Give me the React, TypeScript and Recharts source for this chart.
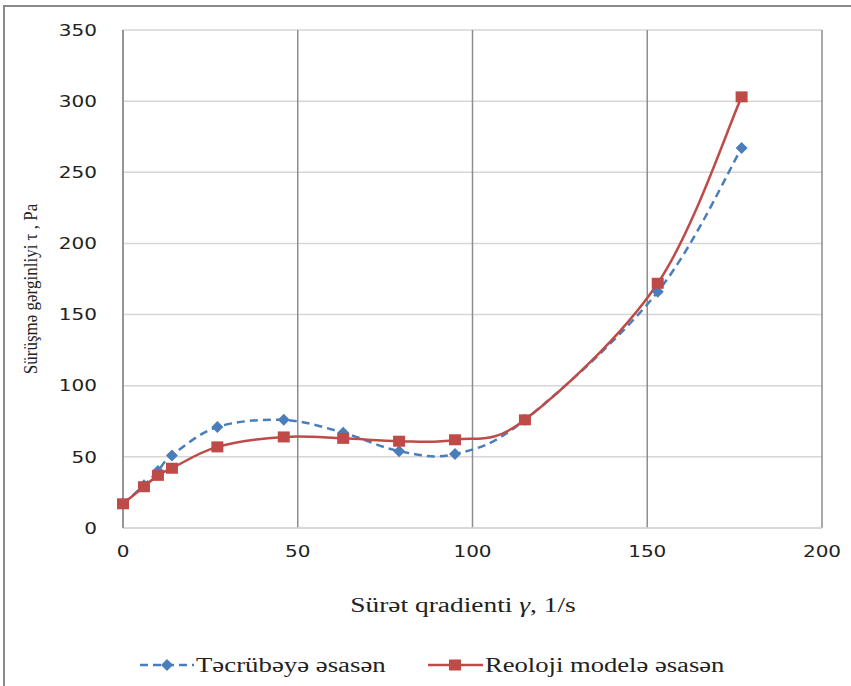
import React from 'react';
import { LineChart, Line, XAxis, YAxis, CartesianGrid } from 'recharts';

const shearRate = [0, 6, 10, 14, 27, 46, 63, 79, 95, 115, 153, 177];
const experiment = [17, 30, 40, 51, 71, 76, 67, 54, 52, 76, 166, 267];
const model = [17, 29, 37, 42, 57, 64, 63, 61, 62, 76, 172, 303];
const xTicks = [0, 50, 100, 150, 200];
const yTicks = [0, 50, 100, 150, 200, 250, 300, 350];

const data = shearRate.map((x, i) => ({ x, exp: experiment[i], mod: model[i] }));

const BLUE = '#4a7ebb';
const RED = '#be4b48';
const serifFont = '"Times New Roman", "Liberation Serif", Tinos, serif';
const sans = '"DejaVu Sans", Verdana, sans-serif';

// Excel style smoothing (uniform Catmull-Rom as bezier)
const smooth = (ctx: any) => {
  let pts: number[][] = [];
  return {
    areaStart() {},
    areaEnd() {},
    lineStart() { pts = []; },
    lineEnd() {
      if (!pts.length) return;
      ctx.moveTo(pts[0][0], pts[0][1]);
      for (let i = 0; i < pts.length - 1; i++) {
        const p0 = pts[i - 1] || pts[i];
        const p1 = pts[i];
        const p2 = pts[i + 1];
        const p3 = pts[i + 2] || p2;
        ctx.bezierCurveTo(
          p1[0] + (p2[0] - p0[0]) / 6, p1[1] + (p2[1] - p0[1]) / 6,
          p2[0] - (p3[0] - p1[0]) / 6, p2[1] - (p3[1] - p1[1]) / 6,
          p2[0], p2[1],
        );
      }
    },
    point(x: number, y: number) { pts.push([+x, +y]); },
  };
};

const Diamond = ({ cx, cy }: any) => (
  <polygon points={`${cx},${cy - 6} ${cx + 6},${cy} ${cx},${cy + 6} ${cx - 6},${cy}`} fill={BLUE} />
);
const Square = ({ cx, cy }: any) => (
  <rect x={cx - 6} y={cy - 5.5} width={12} height={11} fill={RED} />
);

const YTick = ({ x, y, payload }: any) => (
  <text x={0} y={0} transform={`translate(${x},${y}) scale(1.25,1)`} textAnchor="end" dy="0.36em"
    fontFamily={sans} fontSize={16} fill="#222">{payload.value}</text>
);
const XTick = ({ x, y, payload }: any) => (
  <text x={0} y={0} transform={`translate(${x},${y}) scale(1.25,1)`} textAnchor="middle" dy="0.36em"
    fontFamily={sans} fontSize={16} fill="#222">{payload.value}</text>
);

const textStretch: React.CSSProperties = {
  position: 'absolute', fontFamily: serifFont, fontSize: 20, color: '#222', whiteSpace: 'nowrap', lineHeight: 1,
};

export default function App() {
  return (
    <div style={{ position: 'absolute', left: 0, top: 0, width: 851, height: 686, overflow: 'hidden', background: '#fff' }}>
      <div style={{ position: 'absolute', left: 3, top: 5, width: 900, height: 800, border: '2px solid #8a8a8a' }} />
      <LineChart width={851} height={686} data={data}
        margin={{ top: 30, right: 29, bottom: 0, left: 63 }} style={{ position: 'absolute', left: 0, top: 0 }}>
        <CartesianGrid horizontal vertical={false} stroke="#d6d6d6" strokeWidth={1.5} />
        <CartesianGrid horizontal={false} vertical stroke="#8e8e8e" strokeWidth={1.5} />
        <XAxis dataKey="x" type="number" domain={[0, 200]} ticks={xTicks} height={158}
          axisLine={{ stroke: '#d6d6d6', strokeWidth: 1.5 }} tickLine={false} tickSize={0} tickMargin={23}
          tick={<XTick />} interval={0} />
        <YAxis type="number" domain={[0, 350]} ticks={yTicks} width={60}
          axisLine={{ stroke: '#8e8e8e', strokeWidth: 1.5 }} tickLine={false} tickSize={0} tickMargin={26}
          tick={<YTick />} interval={0} />
        <Line dataKey="exp" type={smooth as any} stroke={BLUE} strokeWidth={2.5} strokeDasharray="8 5"
          dot={<Diamond />} activeDot={false} isAnimationActive={false} />
        <Line dataKey="mod" type={smooth as any} stroke={RED} strokeWidth={2.5}
          dot={<Square />} activeDot={false} isAnimationActive={false} />
      </LineChart>

      <div style={{ ...textStretch, left: 463, top: 605, transform: 'translate(-50%,-50%) scaleX(1.37)' }}>
        Sürət qradienti <i>γ</i>, 1/s
      </div>
      <div style={{ ...textStretch, fontSize: 17, left: 31, top: 289, transform: 'translate(-50%,-50%) rotate(-90deg) scaleY(1.15)' }}>
        Sürüşmə gərginliyi τ , Pa
      </div>

      <svg width={851} height={30} style={{ position: 'absolute', left: 0, top: 650 }}>
        <line x1={140} x2={194} y1={15} y2={15} stroke={BLUE} strokeWidth={2.5} strokeDasharray="8 5" />
        <polygon points="167,9 173,15 167,21 161,15" fill={BLUE} />
        <line x1={428} x2={483} y1={15} y2={15} stroke={RED} strokeWidth={2.5} />
        <rect x={449} y={9.5} width={12} height={11} fill={RED} />
      </svg>
      <div style={{ ...textStretch, left: 196, top: 665, transform: 'translateY(-50%) scaleX(1.34)', transformOrigin: 'left center' }}>
        Təcrübəyə əsasən
      </div>
      <div style={{ ...textStretch, left: 485, top: 665, transform: 'translateY(-50%) scaleX(1.33)', transformOrigin: 'left center' }}>
        Reoloji modelə əsasən
      </div>
    </div>
  );
}
